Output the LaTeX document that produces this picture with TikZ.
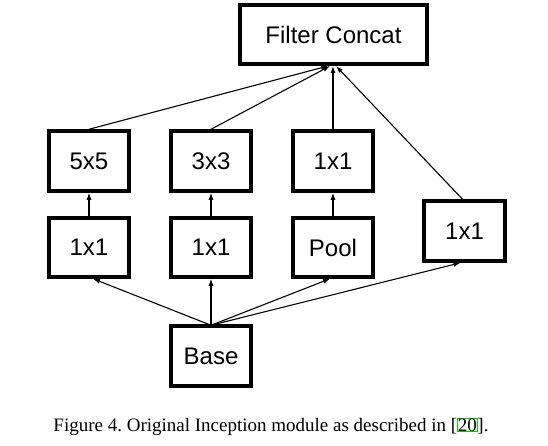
\documentclass[tikz,border=0pt]{standalone}
\usepackage{fontspec}
\setmainfont{Liberation Sans}
\newfontfamily\capfont{Liberation Serif}
\usetikzlibrary{arrows.meta}
\frenchspacing
\begin{document}
\begin{tikzpicture}[x=1pt,y=-1pt,
  blk/.style={draw,line width=3.5pt,minimum width=#1,inner sep=0pt,font=\fontsize{24}{28}\selectfont},
  blk/.default={80pt},
  conn/.style={line width=1.1pt,-{Latex[length=7pt,width=5pt]}}]
\useasboundingbox (0,0) rectangle (548,445);
\node[blk=187pt,minimum height=59pt] (fc) at (333.5,34.5) {Filter Concat};
\node[blk,minimum height=60pt] (a5) at (89,161) {5x5};
\node[blk,minimum height=60pt] (a3) at (211,161) {3x3};
\node[blk,minimum height=60pt] (a1) at (333,161) {1x1};
\node[blk,minimum height=59pt] (b1) at (89,247.5) {1x1};
\node[blk,minimum height=59pt] (b2) at (211,247.5) {1x1};
\node[blk,minimum height=59pt] (bp) at (333,247.5) {Pool};
\node[blk=81pt,minimum height=60pt] (r1) at (464.5,231) {1x1};
\node[blk,minimum height=60pt] (base) at (211,356) {Base};
\coordinate (t5) at (328,66);
\coordinate (t3) at (330,66);
\coordinate (t1) at (333,66);
\coordinate (tr) at (336,66);
\draw[conn] (a5.north) -- (t5);
\draw[conn] (a3.north) -- (t3);
\draw[conn] (a1.north) -- (t1);
\draw[conn] ([xshift=-2pt]r1.north) -- (tr);
\draw[conn] (b1) -- (a5);
\draw[conn] (b2) -- (a3);
\draw[conn] (bp) -- (a1);
\coordinate (bo) at ([yshift=-1pt]base.north);
\draw[conn] (bo) -- ([xshift=4pt]b1.south);
\draw[conn] (bo) -- (b2.south);
\draw[conn] (bo) -- ([xshift=-3pt]bp.south);
\draw[conn] (bo) -- ([xshift=-4pt]r1.south);
\node[font=\capfont\fontsize{19}{22}\selectfont,inner sep=0pt,anchor=base] (cap) at (271,431)
  {Figure 4. Original Inception module as described in [\tikz[baseline=(z.base)]\node[draw=green!80!black,line width=0.8pt,inner sep=0.3pt] (z) {20};].};
\end{tikzpicture}
\end{document}
